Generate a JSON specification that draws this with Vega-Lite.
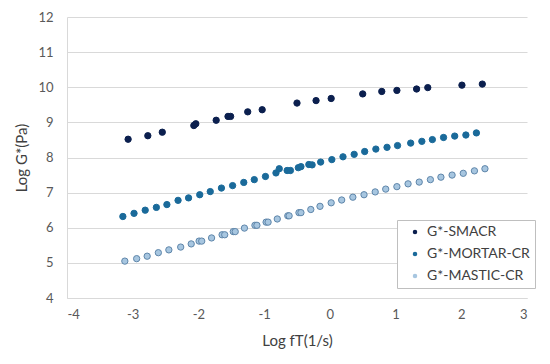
{
  "$schema": "https://vega.github.io/schema/vega-lite/v6.json",
  "width": 460,
  "height": 281,
  "autosize": {"type": "none"},
  "padding": {"left": 67, "top": 17, "right": 23, "bottom": 66},
  "background": "white",
  "config": {
    "font": "Lato",
    "view": {"stroke": null},
    "axis": {"labelFont": "Lato", "titleFont": "Lato", "labelColor": "#595959", "titleColor": "#404040", "titleFontWeight": "normal", "labelFontSize": 13, "titleFontSize": 15, "gridColor": "#d9d9d9", "domainColor": "#d9d9d9", "ticks": false, "labelExpr": "'' + datum.value"}
  },
  "data": {
    "values": [
      {"s": "G*-SMACR", "x": -3.07, "y": 8.52},
      {"s": "G*-SMACR", "x": -2.77, "y": 8.62},
      {"s": "G*-SMACR", "x": -2.55, "y": 8.72},
      {"s": "G*-SMACR", "x": -2.07, "y": 8.91},
      {"s": "G*-SMACR", "x": -2.04, "y": 8.96},
      {"s": "G*-SMACR", "x": -1.73, "y": 9.06},
      {"s": "G*-SMACR", "x": -1.55, "y": 9.17},
      {"s": "G*-SMACR", "x": -1.51, "y": 9.17},
      {"s": "G*-SMACR", "x": -1.25, "y": 9.30},
      {"s": "G*-SMACR", "x": -1.03, "y": 9.36},
      {"s": "G*-SMACR", "x": -0.50, "y": 9.55},
      {"s": "G*-SMACR", "x": -0.21, "y": 9.62},
      {"s": "G*-SMACR", "x": 0.02, "y": 9.68},
      {"s": "G*-SMACR", "x": 0.50, "y": 9.81},
      {"s": "G*-SMACR", "x": 0.79, "y": 9.88},
      {"s": "G*-SMACR", "x": 1.02, "y": 9.91},
      {"s": "G*-SMACR", "x": 1.32, "y": 9.95},
      {"s": "G*-SMACR", "x": 1.49, "y": 9.99},
      {"s": "G*-SMACR", "x": 2.01, "y": 10.06},
      {"s": "G*-SMACR", "x": 2.32, "y": 10.09},
      {"s": "G*-MORTAR-CR", "x": -3.15, "y": 6.32},
      {"s": "G*-MORTAR-CR", "x": -2.98, "y": 6.41},
      {"s": "G*-MORTAR-CR", "x": -2.81, "y": 6.50},
      {"s": "G*-MORTAR-CR", "x": -2.64, "y": 6.58},
      {"s": "G*-MORTAR-CR", "x": -2.48, "y": 6.66},
      {"s": "G*-MORTAR-CR", "x": -2.31, "y": 6.78},
      {"s": "G*-MORTAR-CR", "x": -2.15, "y": 6.85},
      {"s": "G*-MORTAR-CR", "x": -1.98, "y": 6.94},
      {"s": "G*-MORTAR-CR", "x": -1.82, "y": 7.03},
      {"s": "G*-MORTAR-CR", "x": -1.65, "y": 7.13},
      {"s": "G*-MORTAR-CR", "x": -1.48, "y": 7.20},
      {"s": "G*-MORTAR-CR", "x": -1.31, "y": 7.29},
      {"s": "G*-MORTAR-CR", "x": -1.15, "y": 7.37},
      {"s": "G*-MORTAR-CR", "x": -0.98, "y": 7.46},
      {"s": "G*-MORTAR-CR", "x": -0.82, "y": 7.56},
      {"s": "G*-MORTAR-CR", "x": -0.77, "y": 7.68},
      {"s": "G*-MORTAR-CR", "x": -0.65, "y": 7.63},
      {"s": "G*-MORTAR-CR", "x": -0.60, "y": 7.63},
      {"s": "G*-MORTAR-CR", "x": -0.48, "y": 7.71},
      {"s": "G*-MORTAR-CR", "x": -0.44, "y": 7.74},
      {"s": "G*-MORTAR-CR", "x": -0.32, "y": 7.80},
      {"s": "G*-MORTAR-CR", "x": -0.27, "y": 7.79},
      {"s": "G*-MORTAR-CR", "x": -0.14, "y": 7.87},
      {"s": "G*-MORTAR-CR", "x": 0.03, "y": 7.94},
      {"s": "G*-MORTAR-CR", "x": 0.20, "y": 8.02},
      {"s": "G*-MORTAR-CR", "x": 0.37, "y": 8.09},
      {"s": "G*-MORTAR-CR", "x": 0.53, "y": 8.17},
      {"s": "G*-MORTAR-CR", "x": 0.70, "y": 8.24},
      {"s": "G*-MORTAR-CR", "x": 0.87, "y": 8.29},
      {"s": "G*-MORTAR-CR", "x": 1.03, "y": 8.34},
      {"s": "G*-MORTAR-CR", "x": 1.23, "y": 8.41},
      {"s": "G*-MORTAR-CR", "x": 1.40, "y": 8.46},
      {"s": "G*-MORTAR-CR", "x": 1.56, "y": 8.51},
      {"s": "G*-MORTAR-CR", "x": 1.73, "y": 8.57},
      {"s": "G*-MORTAR-CR", "x": 1.90, "y": 8.61},
      {"s": "G*-MORTAR-CR", "x": 2.07, "y": 8.64},
      {"s": "G*-MORTAR-CR", "x": 2.23, "y": 8.70},
      {"s": "G*-MASTIC-CR", "x": -3.12, "y": 5.05},
      {"s": "G*-MASTIC-CR", "x": -2.94, "y": 5.12},
      {"s": "G*-MASTIC-CR", "x": -2.78, "y": 5.19},
      {"s": "G*-MASTIC-CR", "x": -2.61, "y": 5.29},
      {"s": "G*-MASTIC-CR", "x": -2.45, "y": 5.37},
      {"s": "G*-MASTIC-CR", "x": -2.27, "y": 5.45},
      {"s": "G*-MASTIC-CR", "x": -2.11, "y": 5.54},
      {"s": "G*-MASTIC-CR", "x": -1.99, "y": 5.62},
      {"s": "G*-MASTIC-CR", "x": -1.95, "y": 5.62},
      {"s": "G*-MASTIC-CR", "x": -1.80, "y": 5.71},
      {"s": "G*-MASTIC-CR", "x": -1.64, "y": 5.80},
      {"s": "G*-MASTIC-CR", "x": -1.60, "y": 5.80},
      {"s": "G*-MASTIC-CR", "x": -1.47, "y": 5.89},
      {"s": "G*-MASTIC-CR", "x": -1.44, "y": 5.89},
      {"s": "G*-MASTIC-CR", "x": -1.30, "y": 5.99},
      {"s": "G*-MASTIC-CR", "x": -1.14, "y": 6.07},
      {"s": "G*-MASTIC-CR", "x": -1.11, "y": 6.07},
      {"s": "G*-MASTIC-CR", "x": -0.97, "y": 6.16},
      {"s": "G*-MASTIC-CR", "x": -0.94, "y": 6.16},
      {"s": "G*-MASTIC-CR", "x": -0.80, "y": 6.25},
      {"s": "G*-MASTIC-CR", "x": -0.64, "y": 6.34},
      {"s": "G*-MASTIC-CR", "x": -0.62, "y": 6.34},
      {"s": "G*-MASTIC-CR", "x": -0.47, "y": 6.43},
      {"s": "G*-MASTIC-CR", "x": -0.44, "y": 6.43},
      {"s": "G*-MASTIC-CR", "x": -0.29, "y": 6.52},
      {"s": "G*-MASTIC-CR", "x": -0.15, "y": 6.61},
      {"s": "G*-MASTIC-CR", "x": 0.02, "y": 6.71},
      {"s": "G*-MASTIC-CR", "x": 0.18, "y": 6.79},
      {"s": "G*-MASTIC-CR", "x": 0.35, "y": 6.87},
      {"s": "G*-MASTIC-CR", "x": 0.52, "y": 6.94},
      {"s": "G*-MASTIC-CR", "x": 0.69, "y": 7.02},
      {"s": "G*-MASTIC-CR", "x": 0.85, "y": 7.10},
      {"s": "G*-MASTIC-CR", "x": 1.02, "y": 7.17},
      {"s": "G*-MASTIC-CR", "x": 1.19, "y": 7.25},
      {"s": "G*-MASTIC-CR", "x": 1.36, "y": 7.30},
      {"s": "G*-MASTIC-CR", "x": 1.53, "y": 7.37},
      {"s": "G*-MASTIC-CR", "x": 1.69, "y": 7.44},
      {"s": "G*-MASTIC-CR", "x": 1.86, "y": 7.50},
      {"s": "G*-MASTIC-CR", "x": 2.03, "y": 7.55},
      {"s": "G*-MASTIC-CR", "x": 2.20, "y": 7.62},
      {"s": "G*-MASTIC-CR", "x": 2.36, "y": 7.68}
    ]
  },
  "mark": {"type": "point", "filled": true, "opacity": 1, "size": 40, "strokeWidth": 1, "strokeOpacity": 1},
  "encoding": {
    "x": {"field": "x", "type": "quantitative", "scale": {"domain": [-4, 3], "nice": false, "zero": false},
      "axis": {"title": "Log fT(1/s)", "values": [-4, -3, -2, -1, 0, 1, 2, 3], "grid": false, "labelPadding": 10, "titlePadding": 12, "domain": true}},
    "y": {"field": "y", "type": "quantitative", "scale": {"domain": [4, 12], "nice": false, "zero": false},
      "axis": {"title": "Log G*(Pa)", "values": [4, 5, 6, 7, 8, 9, 10, 11, 12], "grid": true, "labelPadding": 14, "titlePadding": 8, "domain": true}},
    "color": {"field": "s", "type": "nominal",
      "scale": {"domain": ["G*-SMACR", "G*-MORTAR-CR", "G*-MASTIC-CR"], "range": ["#0b1f4e", "#1a6a9a", "#a7c6e0"]},
      "legend": {"title": null, "orient": "none", "legendX": 330, "legendY": 203, "strokeColor": "#bfbfbf", "fillColor": "white", "padding": 5, "labelFontSize": 14, "labelColor": "#404040", "symbolSize": 20, "rowPadding": 8, "symbolOffset": 6, "labelOffset": 5, "symbolStrokeWidth": 0}},
    "stroke": {"field": "s", "type": "nominal", "legend": null,
      "scale": {"domain": ["G*-SMACR", "G*-MORTAR-CR", "G*-MASTIC-CR"], "range": ["#0b1f4e", "#1a6a9a", "#5f86aa"]}}
  }
}
